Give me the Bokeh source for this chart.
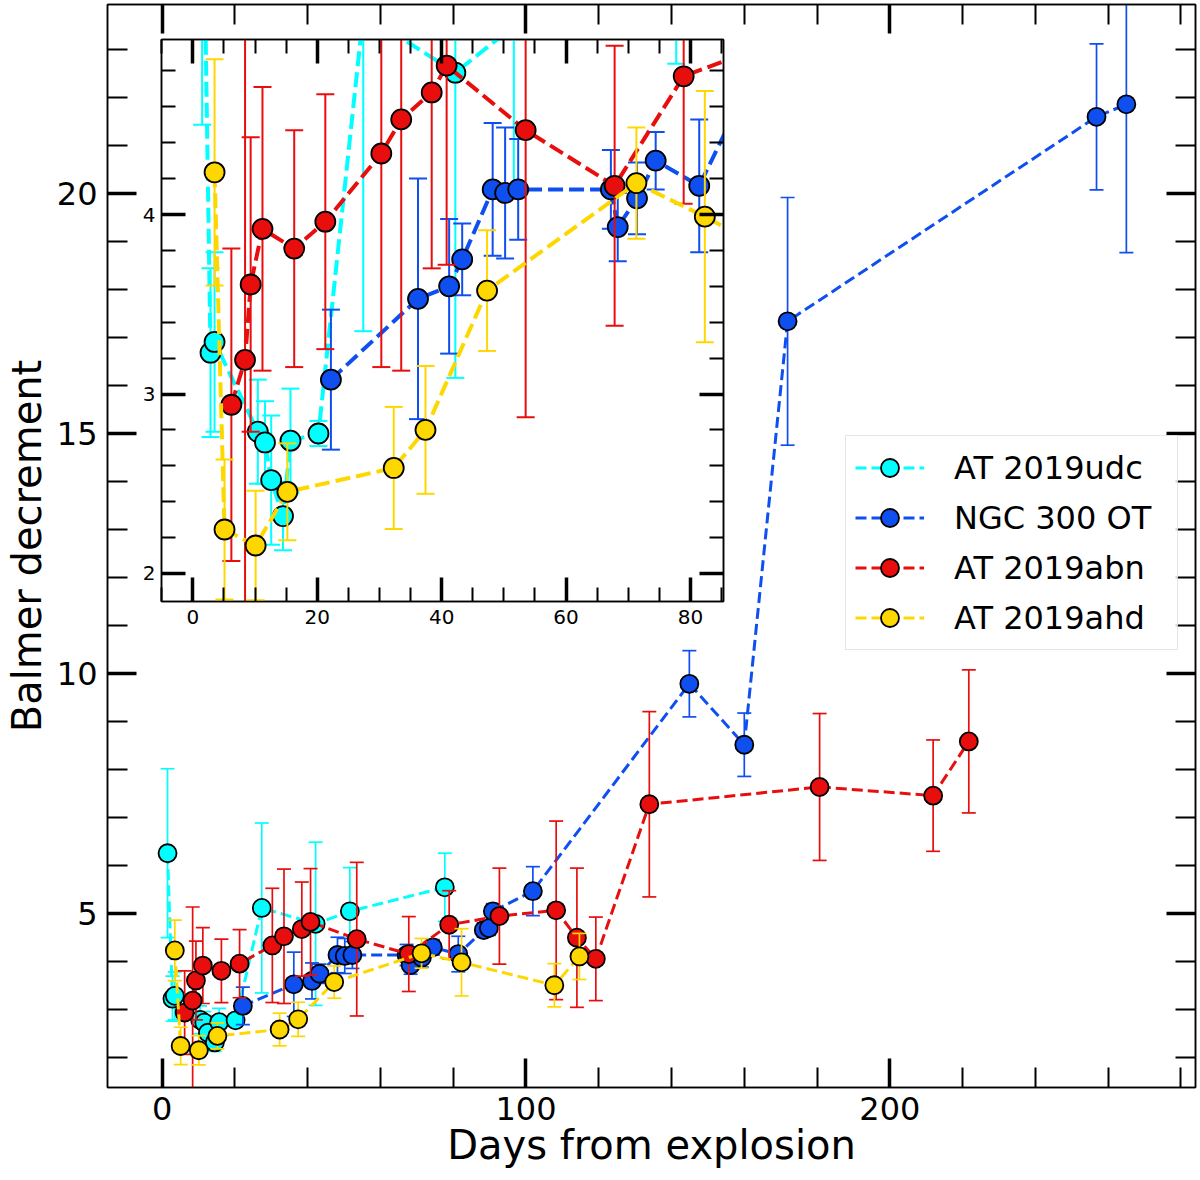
from bokeh.plotting import figure
from bokeh.layouts import column
from bokeh.models import (LinearAxis, SingleIntervalTicker, Range1d,
                          ColumnDataSource, Legend, LegendItem,
                          CustomJSTickFormatter)
from bokeh.embed import file_html
from bokeh.resources import INLINE

FONT = "DejaVu Sans"

# ---------------- data (days from explosion, Balmer decrement, 1-sigma error)
udc_day = [1.5, 2.85, 3.5, 10.45, 11.6, 12.6, 14.5, 15.7, 20.2, 27.4, 42.2, 51.6, 77.7]
udc_val = [6.26, 3.23, 3.29, 2.79, 2.73, 2.52, 2.32, 2.74, 2.78, 5.12, 4.79, 5.05, 5.55]
udc_err = [1.76, 0.47, 0.50, 0.29, 0.23, 0.36, 0.19, 0.29, 0.07, 1.77, 1.70, 0.91, 0.71]

ngc_day = [22.2, 36.2, 41.2, 43.3, 48.2, 50.2, 52.3, 67.2, 68.3, 71.4, 74.4, 81.4,
           88.4, 89.8, 90.9, 101.9, 144.9, 160.0, 171.9, 256.8, 265.0]
ngc_val = [3.08, 3.53, 3.60, 3.75, 4.14, 4.12, 4.14, 4.14, 3.93, 4.09, 4.30, 4.16,
           4.66, 4.70, 5.05, 5.47, 9.79, 8.52, 17.34, 21.60, 21.86]
ngc_err = [0.39, 0.67, 0.375, 0.20, 0.37, 0.365, 0.28, 0.22, 0.19, 0.20, 0.16, 0.37,
           0.15, 0.15, 0.16, 0.51, 0.69, 0.66, 2.58, 1.52, 3.09]

abn_day = [6.2, 8.4, 9.3, 11.2, 16.3, 21.3, 30.3, 33.5, 38.4, 40.8, 53.5, 67.8, 78.9,
           92.7, 108.3, 114.0, 119.2, 133.9, 180.7, 211.9, 221.7]
abn_val = [2.94, 3.19, 3.61, 3.92, 3.81, 3.96, 4.34, 4.53, 4.68, 4.83, 4.47, 4.16, 4.77,
           4.95, 5.07, 4.50, 4.06, 7.28, 7.64, 7.46, 8.59]
abn_err = [0.87, 1.95, 0.82, 0.79, 0.66, 0.71, 1.19, 1.40, 0.98, 1.11, 1.60, 0.78, 0.71,
           1.00, 1.86, 1.45, 0.87, 1.93, 1.53, 1.16, 1.49]

ahd_day = [3.5, 5.1, 10.1, 15.2, 32.3, 37.4, 47.3, 71.3, 82.3, 107.8, 114.7]
ahd_val = [4.235, 2.245, 2.156, 2.455, 2.588, 2.80, 3.576, 4.175, 3.988, 3.51, 4.11]
ahd_err = [0.63, 0.39, 0.305, 0.27, 0.34, 0.356, 0.336, 0.31, 0.70, 0.45, 0.48]

names = ["AT 2019udc", "NGC 300 OT", "AT 2019abn", "AT 2019ahd"]
colors = ["#00FFFF", "#0F4FF0", "#E80E0E", "#FFD700"]
all_days = [udc_day, ngc_day, abn_day, ahd_day]
all_vals = [udc_val, ngc_val, abn_val, ahd_val]
all_errs = [udc_err, ngc_err, abn_err, ahd_err]

W, H = 1200, 1180


def draw_series(fig, day, val, err, color, lw, dash, msize, cap, bar_w):
    lo = [v - e for v, e in zip(val, err)]
    hi = [v + e for v, e in zip(val, err)]
    src = ColumnDataSource(dict(x=day, y=val, lo=lo, hi=hi))
    fig.segment(x0="x", y0="lo", x1="x", y1="hi", source=src,
                line_color=color, line_width=bar_w)
    fig.scatter(x="x", y="lo", source=src, marker="dash", size=cap,
                line_color=color, line_width=bar_w)
    fig.scatter(x="x", y="hi", source=src, marker="dash", size=cap,
                line_color=color, line_width=bar_w)
    ln = fig.line(x="x", y="y", source=src, line_color=color, line_width=lw,
                  line_dash=dash)
    mk = fig.scatter(x="x", y="y", source=src, marker="circle", size=msize,
                     fill_color=color, line_color="black", line_width=1.8)
    return ln, mk


def style_axes(fig, xint, xminor, yint, yminor, major_len, minor_len,
               label_px, xstand, ystand):
    bottom = fig.below[0]
    left = fig.left[0]
    top = LinearAxis()
    right = LinearAxis()
    fig.add_layout(top, "above")
    fig.add_layout(right, "right")
    for ax in (bottom, top):
        ax.ticker = SingleIntervalTicker(interval=xint, num_minor_ticks=xminor)
    for ax in (left, right):
        ax.ticker = SingleIntervalTicker(interval=yint, num_minor_ticks=yminor)
    for ax in (bottom, top, left, right):
        ax.major_tick_in = major_len
        ax.major_tick_out = 0
        ax.minor_tick_in = minor_len
        ax.minor_tick_out = 0
        ax.major_tick_line_width = 3.5
        ax.minor_tick_line_width = 2
        ax.major_tick_line_color = "black"
        ax.minor_tick_line_color = "black"
        ax.axis_line_color = "black"
        ax.axis_line_width = 1.5
        ax.major_label_text_font = FONT
        ax.major_label_text_font_size = f"{label_px}px"
        ax.major_label_text_color = "black"
    bottom.major_label_standoff = xstand
    left.major_label_standoff = ystand
    for ax in (top, right):
        ax.formatter = CustomJSTickFormatter(code="return ''")
        ax.major_label_text_font_size = "1px"
        ax.major_label_standoff = 0
    fig.xgrid.visible = False
    fig.ygrid.visible = False
    fig.outline_line_color = "black"
    fig.outline_line_width = 1.5
    return bottom, left


# ---------------- main plot
main = figure(width=W, height=H,
              x_range=Range1d(-15, 284), y_range=Range1d(1.38, 23.94),
              output_backend="svg", toolbar_location=None,
              min_border_left=106, min_border_right=5,
              min_border_top=4, min_border_bottom=93)
main.background_fill_color = "white"
main.border_fill_color = "white"

items = []
for name, d, v, e, c in zip(names, all_days, all_vals, all_errs, colors):
    ln, mk = draw_series(main, d, v, e, c, lw=3, dash="11 5", msize=18,
                         cap=14, bar_w=1.7)
    items.append(LegendItem(label=name, renderers=[ln, mk]))

xb, yl = style_axes(main, 100, 5, 5, 5, 29, 20, 32, 9, 10)
xb.axis_label = "Days from explosion"
yl.axis_label = "Balmer decrement"
for ax in (xb, yl):
    ax.axis_label_text_font = FONT
    ax.axis_label_text_font_size = "40px"
    ax.axis_label_text_font_style = "normal"
    ax.axis_label_text_color = "black"
xb.axis_label_standoff = -1
yl.axis_label_standoff = 4

legend = Legend(items=items, location=(738, 437))
legend.label_text_font = FONT
legend.label_text_font_size = "32px"
legend.label_text_color = "black"
legend.glyph_width = 69
legend.glyph_height = 45
legend.label_height = 45
legend.label_width = 214
legend.spacing = 5
legend.padding = 9
legend.margin = 0
legend.label_standoff = 30
legend.border_line_color = "#cccccc"
legend.border_line_width = 1.5
legend.background_fill_color = "white"
legend.background_fill_alpha = 0.8
main.add_layout(legend)

# ---------------- inset plot
inset = figure(width=612, height=612,
               x_range=Range1d(-5.03, 85.3), y_range=Range1d(1.844, 4.975),
               output_backend="svg", toolbar_location=None,
               min_border_left=40, min_border_right=10,
               min_border_top=10, min_border_bottom=40)
inset.background_fill_color = "white"
inset.border_fill_alpha = 0
for d, v, e, c in zip(all_days, all_vals, all_errs, colors):
    draw_series(inset, d, v, e, c, lw=4, dash="15 6", msize=20, cap=18, bar_w=2)
style_axes(inset, 20, 4, 1, 5, 24, 14, 20, 8, 6)

inset_left, inset_top = 121, 29
holder = column(inset)
holder.margin = (inset_top - H, 0, H - inset_top - 612, inset_left)

layout = column(main, holder)
layout.spacing = 0

open("out.html", "w").write(file_html(layout, INLINE))
